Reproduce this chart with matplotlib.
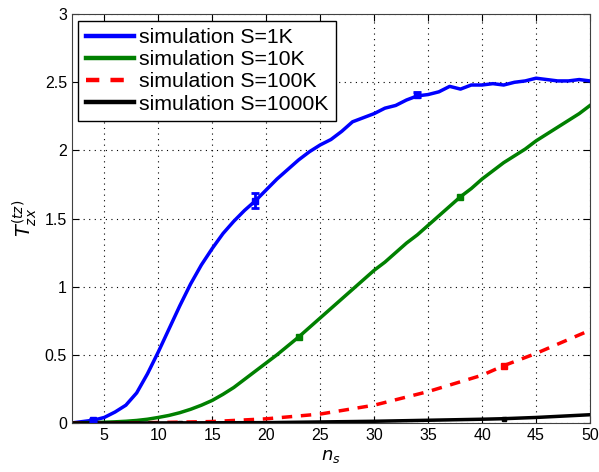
import numpy as np
import matplotlib.pyplot as plt

plt.rcParams['font.family'] = ['Liberation Sans', 'DejaVu Sans']

# throughput vs n_s for each simulation size
ns = list(range(2, 51))
t_1k = [0.0, 0.01, 0.02, 0.04, 0.08, 0.13, 0.22, 0.36, 0.52, 0.69, 0.86, 1.02, 1.16, 1.28,
        1.39, 1.48, 1.56, 1.63, 1.71, 1.79, 1.86, 1.93, 1.99, 2.04, 2.08, 2.14, 2.21, 2.24,
        2.27, 2.31, 2.33, 2.37, 2.40, 2.41, 2.43, 2.47, 2.45, 2.48, 2.48, 2.49, 2.48, 2.50,
        2.51, 2.53, 2.52, 2.51, 2.51, 2.52, 2.51]
t_10k = [0.0, 0.001, 0.003, 0.005, 0.008, 0.012, 0.018, 0.027, 0.04, 0.055, 0.075, 0.10,
         0.13, 0.165, 0.21, 0.26, 0.32, 0.38, 0.44, 0.50, 0.565, 0.63, 0.70, 0.77, 0.84,
         0.91, 0.98, 1.05, 1.12, 1.18, 1.25, 1.32, 1.38, 1.45, 1.52, 1.59, 1.66, 1.72, 1.79,
         1.85, 1.91, 1.96, 2.01, 2.07, 2.12, 2.17, 2.22, 2.27, 2.33]
ns_100k = [2, 6, 10, 15, 20, 25, 30, 35, 40, 42, 45, 50]
t_100k = [0.0, 0.0, 0.003, 0.01, 0.03, 0.065, 0.13, 0.23, 0.35, 0.42, 0.51, 0.68]
ns_1000k = [2, 10, 20, 30, 40, 42, 45, 50]
t_1000k = [0.0, 0.0, 0.002, 0.012, 0.027, 0.031, 0.04, 0.06]

# sampled points with error bars
err_1k_x = [4, 19, 34]
err_1k_y = [0.02, 1.63, 2.41]
err_1k_e = [0.01, 0.055, 0.02]
err_10k_x = [23, 38]
err_10k_y = [0.63, 1.66]
err_100k_x = [42]
err_100k_y = [0.42]
err_1000k_x = [12, 42]
err_1000k_y = [0.0, 0.031]

fig = plt.figure(figsize=(5.99, 4.72), dpi=100)
ax = fig.add_axes([0.120, 0.104, 0.865, 0.866])

ax.plot(ns, t_1k, color='blue', lw=2.5, label='simulation S=1K')
ax.plot(ns, t_10k, color='green', lw=2.5, label='simulation S=10K')
ax.plot(ns_100k, t_100k, color='red', lw=2.5, ls=(0, (3, 2.5)), label='simulation S=100K')
ax.plot(ns_1000k, t_1000k, color='black', lw=2.5, label='simulation S=1000K')

ax.errorbar(err_1k_x, err_1k_y, yerr=err_1k_e, fmt='s', color='blue', ms=5,
            capsize=3, elinewidth=2, capthick=2)
ax.errorbar(err_10k_x, err_10k_y, yerr=0.01, fmt='s', color='green', ms=4, capsize=2)
ax.errorbar(err_100k_x, err_100k_y, yerr=0.01, fmt='s', color='red', ms=4, capsize=2)
ax.errorbar(err_1000k_x, err_1000k_y, yerr=0.005, fmt='s', color='black', ms=3, capsize=2)

ax.set_xlim(2, 50)
ax.set_ylim(0, 3)
ax.set_xticks(range(5, 51, 5))
ax.set_yticks(np.arange(0, 3.01, 0.5))
ax.set_yticklabels(['0', '0.5', '1', '1.5', '2', '2.5', '3'])
ax.grid(True, color='black', ls=(0, (1, 4)), lw=0.8)
ax.tick_params(direction='in', top=True, right=True, labelsize=11.5, length=5)
for s in ax.spines.values():
    s.set_color('#404040')

ax.set_xlabel(r'$n_s$', fontsize=13)
ax.set_ylabel(r'$T_{zx}^{(tz)}$', fontsize=14)

leg = ax.legend(loc='upper left', fontsize=15.3, handlelength=2.25, fancybox=False,
                framealpha=1, edgecolor='black', borderaxespad=0.3, labelspacing=0.15,
                handletextpad=0.25, borderpad=0.35)
leg.get_frame().set_linewidth(1.0)
for line in leg.get_lines():
    line.set_linewidth(3.2)

fig.savefig('out.png', dpi=100)
